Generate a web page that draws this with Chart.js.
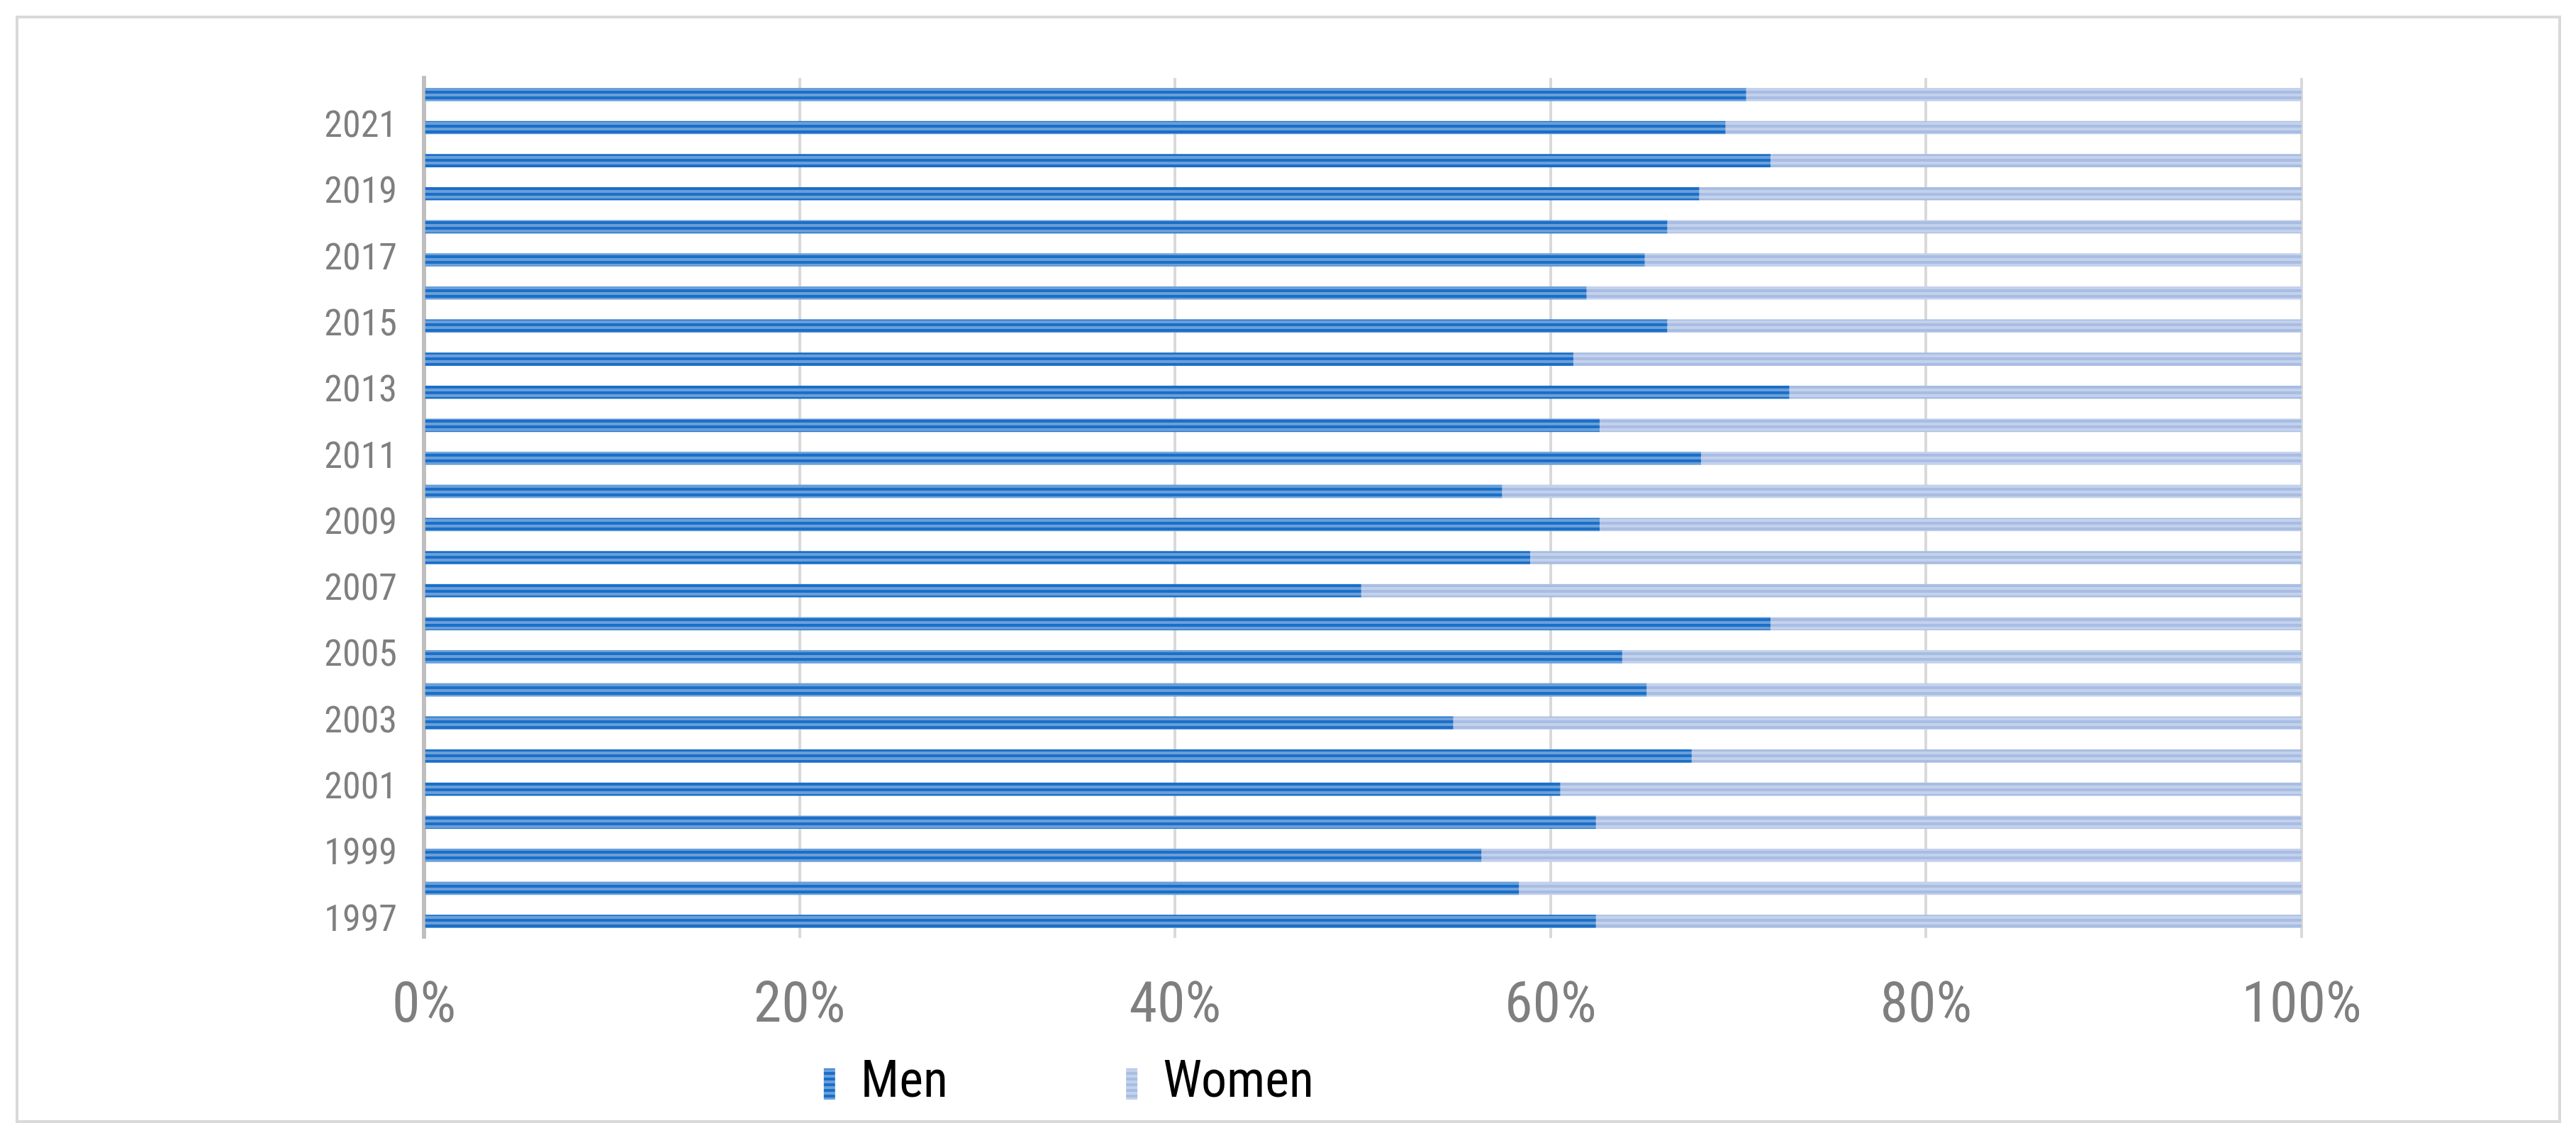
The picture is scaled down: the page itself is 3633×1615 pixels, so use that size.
<!DOCTYPE html>
<html><head><meta charset="utf-8">
<script src="https://cdn.jsdelivr.net/npm/chart.js@4"></script>
<style>html,body{margin:0;padding:0;background:#fff}#c{display:block}</style>
</head><body>
<canvas id="c" width="3633" height="1615"></canvas>
<script>
const years = [1997,1998,1999,2000,2001,2002,2003,2004,2005,2006,2007,2008,2009,2010,2011,2012,2013,2014,2015,2016,2017,2018,2019,2020,2021,2022];
const men = [62.4,58.3,56.3,62.4,60.5,67.5,54.8,65.1,63.8,71.7,49.9,58.9,62.6,57.4,68.0,62.6,72.7,61.2,66.2,61.9,65.0,66.2,67.9,71.7,69.3,70.4];
const women = men.map(v => +(100 - v).toFixed(1));
const xTicks = [0,20,40,60,80,100];

function stripes(c1, c2) {
  const p = document.createElement('canvas'); p.width = 8; p.height = 8;
  const g = p.getContext('2d');
  g.fillStyle = c1; g.fillRect(0,0,8,4);
  g.fillStyle = c2; g.fillRect(0,4,8,4);
  return g.createPattern(p, 'repeat');
}
const menFill = stripes('#1a6fc8', '#6a9fd8');
const womenFill = stripes('#a8bde2', '#c3d1ec');
const FONT = "'Liberation Sans Narrow','Roboto Condensed','Liberation Sans',sans-serif";

const frame = {
  id: 'frame',
  beforeDraw(ch) {
    const c = ch.ctx; c.save();
    c.fillStyle = '#fff'; c.fillRect(0,0,ch.width,ch.height);
    c.strokeStyle = '#d9d9d9'; c.lineWidth = 4;
    c.strokeRect(24, 24, 3586, 1558);
    c.restore();
  }
};

new Chart(document.getElementById('c'), {
  type: 'bar',
  data: {
    labels: years.map(String),
    datasets: [
      {label: 'Men', data: men, backgroundColor: menFill, barThickness: 18},
      {label: 'Women', data: women, backgroundColor: womenFill, barThickness: 18}
    ]
  },
  options: {
    indexAxis: 'y', responsive: false, animation: false, devicePixelRatio: 1,
    layout: {padding: {top: 110, right: 387, bottom: 40, left: 0}},
    scales: {
      x: {
        stacked: true, min: 0, max: 100,
        afterBuildTicks: a => { a.ticks = xTicks.map(v => ({value: v})); },
        afterFit: a => { a.height = 150; },
        ticks: {callback: v => v + '%', color: '#7f7f7f', font: {family: FONT, size: 80}, padding: 50},
        grid: {color: '#d9d9d9', lineWidth: 4, drawTicks: false},
        border: {display: false}
      },
      y: {
        stacked: true, reverse: true,
        afterFit: a => { a.width = 598; },
        ticks: {
          autoSkip: false, color: '#7f7f7f', font: {family: FONT, size: 52}, padding: 30,
          callback: function(v, i) { const l = this.getLabelForValue(v); return (+l % 2 === 1) ? l : ''; }
        },
        grid: {display: false},
        border: {display: true, color: '#bfbfbf', width: 6}
      }
    },
    plugins: {
      tooltip: {enabled: false},
      legend: {
        position: 'bottom',
        labels: {color: '#7f7f7f', font: {family: FONT, size: 72}, boxWidth: 16, boxHeight: 44, padding: 20,
          generateLabels: ch => ch.data.datasets.map((d, i) => ({text: d.label + '              ', fillStyle: d.backgroundColor, strokeStyle: 'transparent', lineWidth: 0, datasetIndex: i}))}
      }
    }
  },
  plugins: [frame]
});
</script>
</body></html>
